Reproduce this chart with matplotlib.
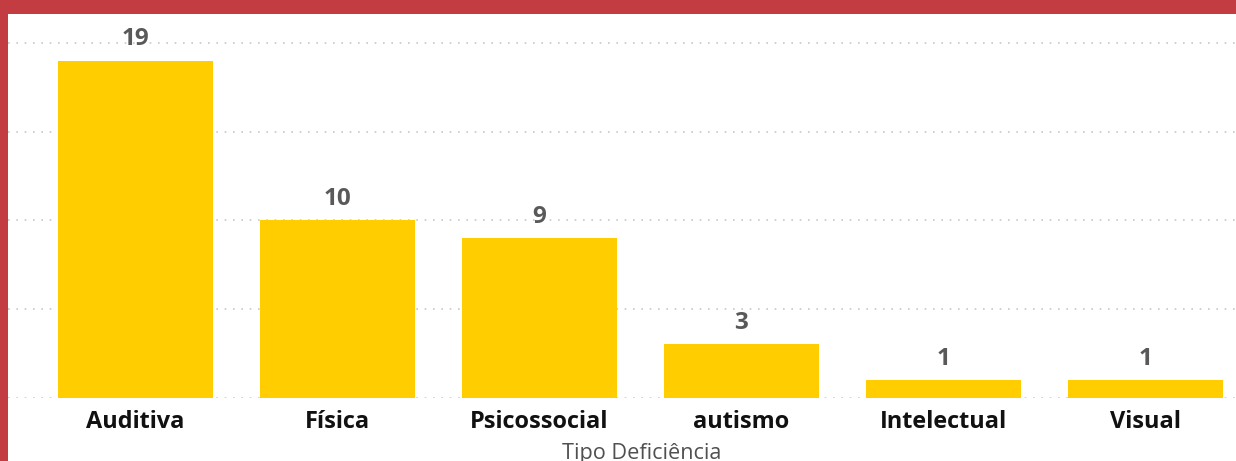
import matplotlib.pyplot as plt
from matplotlib.patches import Rectangle

# Counts per type of disability
categorias = ["Auditiva", "Física", "Psicossocial", "autismo", "Intelectual", "Visual"]
valores = [19, 10, 9, 3, 1, 1]
grade_y = [0, 5, 10, 15, 20]

W, H = 1236, 461
BAR_COLOR = "#FFCD00"
FRAME_COLOR = "#C33C42"
plt.rcParams["font.family"] = ["Open Sans", "DejaVu Sans"]

fig = plt.figure(figsize=(W / 100, H / 100), dpi=100)
fig.patch.set_facecolor("white")

# axes placed in pixel terms: left 8, right 1236, y=0 at 397.7, top at 14
left, right, bottom, top = 8, 1236, 397.7, 14
ax = fig.add_axes([left / W, 1 - bottom / H, (right - left) / W, (bottom - top) / H])

x = list(range(len(categorias)))
ax.bar(x, valores, width=0.767, color=BAR_COLOR, zorder=2)
ax.set_xlim(-0.631, 5.448)
px_per_unit = (397.7 - 43) / 20
ax.set_ylim(0, 20 + (43 - top) / px_per_unit)

for g in grade_y:
    ax.axhline(g, color="#C8C8C8", linestyle=(0, (1, 4)), linewidth=1.2, zorder=1)

for xi, v in zip(x, valores):
    ax.annotate(str(v), (xi, v), xytext=(0, 11), textcoords="offset points",
                ha="center", va="baseline", fontsize=17.5, fontweight="bold",
                color="#595959")

ax.set_xticks(x)
ax.set_xticklabels(categorias, fontsize=16.9, fontweight="bold", color="#111111")
ax.tick_params(axis="x", length=0, pad=8.6)
ax.set_yticks([])
for s in ax.spines.values():
    s.set_visible(False)

# axis title, partly clipped by the bottom edge
fig.text(642 / W, 1 - 458.5 / H, "Tipo Deficiência", fontsize=15.6,
         color="#505050", ha="center", va="baseline")

# red frame on the top and left edges
fig.patches.append(Rectangle((0, 1 - 14 / H), 1, 14 / H, transform=fig.transFigure,
                             facecolor=FRAME_COLOR, edgecolor="none", zorder=5))
fig.patches.append(Rectangle((0, 0), 8 / W, 1, transform=fig.transFigure,
                             facecolor=FRAME_COLOR, edgecolor="none", zorder=5))

fig.savefig("out.png", dpi=100)
